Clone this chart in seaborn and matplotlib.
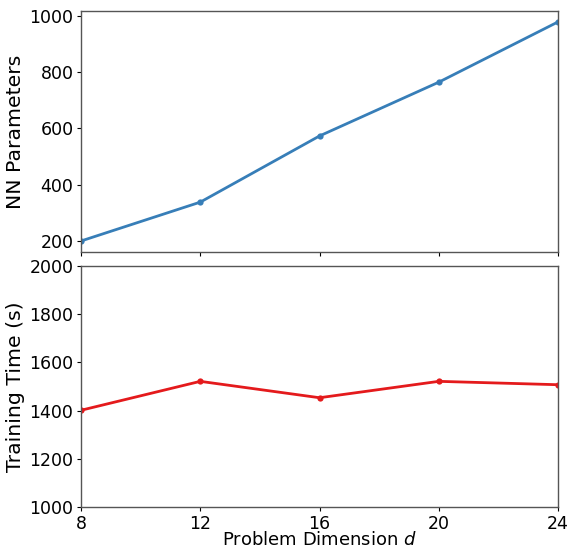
import matplotlib
matplotlib.use('Agg')
import matplotlib.pyplot as plt
import seaborn as sns
import pandas as pd

# Data
dims = [8, 12, 16, 20, 24]
nn_params = [200, 338, 573, 764, 978]
train_time = [1401, 1521, 1453, 1521, 1507]

df = pd.DataFrame({'d': dims, 'params': nn_params, 'time': train_time})

sns.set_style('ticks')
plt.rcParams['font.family'] = ['DejaVu Sans']
plt.rcParams['text.color'] = 'black'
plt.rcParams['axes.labelcolor'] = 'black'
plt.rcParams['xtick.color'] = 'black'
plt.rcParams['ytick.color'] = 'black'

fig, (ax1, ax2) = plt.subplots(2, 1, figsize=(5.69, 5.48), dpi=100, sharex=True)
fig.subplots_adjust(left=0.1424, right=0.9807, top=0.98, bottom=0.075, hspace=0.058)

sns.lineplot(data=df, x='d', y='params', ax=ax1, color='#377eb8', linewidth=2,
             marker='o', markersize=4.5, markeredgewidth=0)
sns.lineplot(data=df, x='d', y='time', ax=ax2, color='#e41a1c', linewidth=2,
             marker='o', markersize=4.5, markeredgewidth=0)

ax1.set_ylabel('NN Parameters', fontsize=14.7, labelpad=3)
ax1.set_xlabel('')
ax1.set_yticks([200, 400, 600, 800, 1000])

ax2.set_ylim(1000, 2000)
ax2.set_ylabel('Training Time (s)', fontsize=14.7, labelpad=3)
ax2.set_xlabel('Problem Dimension $d$', fontsize=13, labelpad=-1)
ax2.set_xlim(8, 24)
ax2.set_xticks(dims)

for ax in (ax1, ax2):
    ax.tick_params(labelsize=12.5, length=3, pad=2.5)
    for s in ax.spines.values():
        s.set_color('#555555')
        s.set_linewidth(1.0)

fig.savefig('out.png', dpi=100)
